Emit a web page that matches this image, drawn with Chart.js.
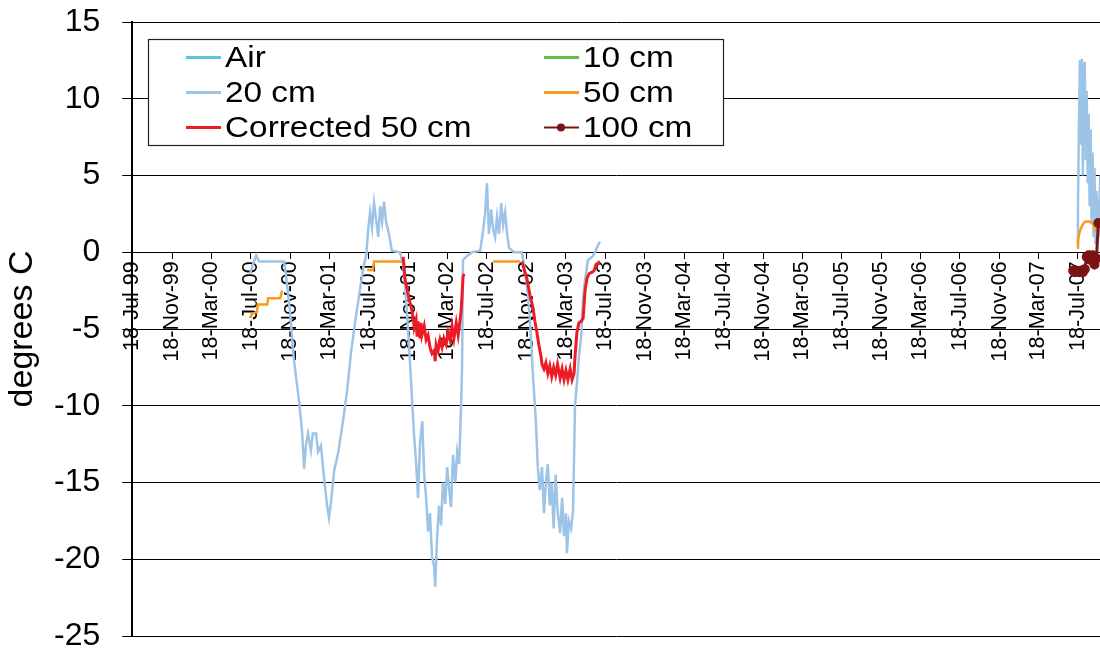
<!DOCTYPE html>
<html>
<head>
<meta charset="utf-8">
<script src="https://cdn.jsdelivr.net/npm/chart.js@4/dist/chart.umd.min.js"></script>
<style>
html,body{margin:0;padding:0;background:#fff;overflow:hidden}
#wrap{position:relative;width:1100px;height:652px}
</style>
</head>
<body>
<div id="wrap"><canvas id="c"></canvas></div>
<script>
// ---- tick labels (date axis) ----
const tickLabels = ['18-Jul-99','18-Nov-99','18-Mar-00','18-Jul-00','18-Nov-00','18-Mar-01','18-Jul-01',
  '18-Nov-01','18-Mar-02','18-Jul-02','18-Nov-02','18-Mar-03','18-Jul-03','18-Nov-03','18-Mar-04',
  '18-Jul-04','18-Nov-04','18-Mar-05','18-Jul-05','18-Nov-05','18-Mar-06','18-Jul-06','18-Nov-06',
  '18-Mar-07','18-Jul-07'];
const xStart = '1999-07-18';
const xEnd = '2007-09-24';
const yTicks = [-25, -20, -15, -10, -5, 0, 5, 10, 15];

// ---- series ----
const seriesNames = ['Air', '10 cm', '20 cm', '50 cm', 'Corrected 50 cm', '100 cm'];

const airDates = [];
const airValues = [];

const cm10Dates = [];
const cm10Values = [];

const cm20Dates = ['2000-07-16','2000-07-25','2000-08-04','2000-08-13','2000-09-16','2000-10-29','2000-11-04','2000-11-17',
  '2000-11-26','2000-12-06','2000-12-15','2000-12-24','2000-12-30','2001-01-05','2001-01-11','2001-01-20','2001-01-26',
  '2001-02-05','2001-02-11','2001-02-20','2001-03-02','2001-03-11','2001-03-17','2001-03-23','2001-04-02','2001-04-14',
  '2001-04-29','2001-05-12','2001-05-24','2001-06-06','2001-06-18','2001-07-01','2001-07-10','2001-07-16','2001-07-22',
  '2001-07-28','2001-08-03','2001-08-09','2001-08-16','2001-08-22','2001-08-28','2001-09-03','2001-09-09','2001-09-18',
  '2001-09-27','2001-10-22','2001-11-01','2001-11-10','2001-11-19','2001-11-29','2001-12-05','2001-12-11','2001-12-17',
  '2001-12-23','2001-12-30','2002-01-05','2002-01-11','2002-01-17','2002-01-23','2002-01-29','2002-02-05','2002-02-08',
  '2002-02-14','2002-02-20','2002-02-26','2002-03-04','2002-03-11','2002-03-17','2002-03-23','2002-03-29','2002-04-04',
  '2002-04-11','2002-04-17','2002-04-23','2002-04-29','2002-05-02','2002-05-05','2002-05-14','2002-06-02','2002-06-27',
  '2002-07-06','2002-07-12','2002-07-18','2002-07-24','2002-07-31','2002-08-06','2002-08-12','2002-08-18','2002-08-24',
  '2002-08-31','2002-09-06','2002-09-12','2002-09-18','2002-09-24','2002-10-09','2002-11-03','2002-11-09','2002-11-18',
  '2002-11-28','2002-12-07','2002-12-16','2002-12-22','2002-12-28','2003-01-04','2003-01-10','2003-01-16','2003-01-22',
  '2003-01-28','2003-02-03','2003-02-09','2003-02-15','2003-02-21','2003-03-01','2003-03-07','2003-03-13','2003-03-19',
  '2003-03-22','2003-03-28','2003-04-04','2003-04-10','2003-04-16','2003-04-22','2003-04-28','2003-05-05','2003-05-11',
  '2003-05-17','2003-05-26','2003-06-08','2003-06-17','2003-06-27','2003-07-02','2005-07-18',
  '2007-07-15','2007-07-18','2007-07-21','2007-07-24','2007-07-27','2007-07-30','2007-08-02','2007-08-05','2007-08-08',
  '2007-08-11','2007-08-14','2007-08-17','2007-08-20','2007-08-23','2007-08-26','2007-08-29','2007-09-01','2007-09-04',
  '2007-09-07','2007-09-10','2007-09-13','2007-09-16','2007-09-19','2007-09-22','2007-09-25'];
const cm20Values = [-1.4,-0.8,-0.2,-0.6,-0.6,-0.6,-1.5,-4.0,
  -6.5,-8.3,-9.8,-11.8,-14.1,-12.5,-11.8,-12.9,-11.8,
  -11.8,-13.0,-12.6,-14.8,-16.5,-17.3,-16.3,-14.2,-13.1,
  -11.0,-9.0,-6.5,-4.5,-2.8,-1.0,-0.2,1.5,2.6,
  1.6,3.2,2.2,1.0,3.0,2.0,3.3,2.0,1.2,
  0.1,0.0,-0.8,-3.0,-6.0,-9.8,-12.0,-13.7,-16.0,
  -12.5,-11.0,-14.5,-16.0,-18.2,-17.0,-19.8,-20.5,-21.8,
  -18.5,-16.5,-17.8,-15.0,-16.4,-14.0,-15.4,-16.6,-13.2,
  -15.0,-13.0,-13.8,-10.0,-7.5,-0.5,-0.3,0.0,0.1,
  1.4,2.5,4.5,1.2,2.8,1.5,1.0,2.3,1.2,
  3.2,1.8,2.6,1.2,0.3,0.0,0.0,-0.8,-2.0,
  -4.5,-8.0,-11.0,-14.0,-15.5,-14.0,-17.0,-15.0,-13.8,
  -16.5,-15.0,-18.0,-14.5,-16.8,-18.3,-16.0,-18.5,-17.0,
  -19.6,-17.5,-18.0,-16.8,-10.0,-8.5,-6.8,-5.5,-3.0,
  -1.8,-0.5,-0.3,0.0,0.5,0.7,null,
  0.5,3.0,8.5,12.5,7.0,12.6,5.0,11.5,12.4,
  6.0,10.5,4.5,9.0,3.0,8.0,2.0,6.5,1.0,
  5.5,0.5,4.0,2.5,1.0,3.0,5.0];

const cm50Dates = ['2000-07-16','2000-07-22','2000-08-06','2000-08-09','2000-09-07','2000-09-10','2000-10-17','2000-10-23',
  '2001-01-01','2001-07-13','2001-07-31','2001-08-03','2001-10-29','2002-01-01','2002-08-06','2002-10-28','2005-01-01',
  '2007-07-15','2007-07-18','2007-07-24','2007-07-30','2007-08-05','2007-08-11','2007-08-23','2007-09-04','2007-09-10',
  '2007-09-16','2007-09-22','2007-09-28'];
const cm50Values = [-4.3,-4.0,-3.9,-3.4,-3.4,-3.0,-3.0,-2.5,
  null,-1.15,-1.15,-0.6,-0.6,null,-0.6,-0.6,null,
  0.3,0.8,1.4,1.7,1.9,2.0,2.0,1.8,1.5,
  1.8,1.9,1.9];

const cm50cDates = ['2001-11-01','2001-11-04','2001-11-07','2001-11-13','2001-11-19','2001-11-26','2001-12-02','2001-12-05',
  '2001-12-11','2001-12-14','2001-12-17','2001-12-23','2001-12-26','2001-12-29','2002-01-05','2002-01-11','2002-01-17',
  '2002-01-23','2002-01-29','2002-02-05','2002-02-08','2002-02-11','2002-02-17','2002-02-23','2002-03-01','2002-03-07',
  '2002-03-14','2002-03-20','2002-03-26','2002-04-01','2002-04-07','2002-04-14','2002-04-20','2002-04-26','2002-04-29',
  '2002-05-02','2002-05-05','2002-05-08','2002-08-01',
  '2002-11-03','2002-11-12','2002-11-18','2002-11-28','2002-12-07','2002-12-13','2002-12-19','2002-12-25','2003-01-01',
  '2003-01-04','2003-01-10','2003-01-16','2003-01-22','2003-01-28','2003-02-03','2003-02-09','2003-02-15','2003-02-21',
  '2003-03-01','2003-03-07','2003-03-13','2003-03-19','2003-03-25','2003-04-01','2003-04-07','2003-04-13','2003-04-16',
  '2003-04-22','2003-04-28','2003-05-05','2003-05-11','2003-05-17','2003-05-23','2003-05-29','2003-06-08','2003-06-14',
  '2003-06-20','2003-06-27','2003-07-02'];
const cm50cValues = [-0.3,-1.0,-1.8,-2.4,-3.0,-3.6,-4.3,-4.9,
  -4.4,-5.5,-4.5,-5.6,-4.6,-5.4,-4.8,-5.7,-5.4,
  -6.2,-6.6,-6.4,-7.1,-6.0,-6.4,-5.7,-6.2,-5.6,
  -6.0,-5.2,-5.7,-4.8,-5.6,-4.6,-5.4,-4.4,-3.8,
  -2.8,-1.6,-1.4,null,
  -0.6,-1.3,-1.7,-2.8,-3.6,-4.5,-5.2,-6.0,-6.8,
  -7.3,-7.6,-7.2,-7.9,-7.4,-8.1,-7.5,-8.0,-7.3,
  -8.2,-7.6,-8.3,-7.7,-8.3,-7.6,-8.3,-7.9,-6.8,
  -5.2,-4.6,-4.5,-4.3,-2.5,-1.7,-1.4,-1.3,-1.2,
  -0.8,-0.7,-0.6];

const cm100Dates = ['2007-07-03','2007-07-09','2007-07-15','2007-07-21','2007-07-27','2007-08-02','2007-08-08',
  '2007-08-14','2007-08-20','2007-08-26','2007-09-01','2007-09-07','2007-09-13','2007-09-19'];
const cm100Values = [-1.2,-1.3,-1.2,-1.3,-1.2,-1.3,-1.1,
  -0.3,-0.2,-0.5,-0.2,-0.8,-0.4,1.9];

// ---- helpers ----
const MONTHS = ['Jan','Feb','Mar','Apr','May','Jun','Jul','Aug','Sep','Oct','Nov','Dec'];
const dayOf = s => Date.UTC(+s.slice(0,4), +s.slice(5,7) - 1, +s.slice(8,10)) / 864e5;
const dayOfLabel = l => {
  const [d, m, y] = l.split('-');
  return Date.UTC(2000 + (+y > 50 ? +y - 100 : +y), MONTHS.indexOf(m), +d) / 864e5;
};
const tickDays = tickLabels.map(dayOfLabel);
const pts = (dates, vals) => dates.map((d, i) => ({x: dayOf(d), y: vals[i]}));

const FONT = '"Liberation Sans", Arial, sans-serif';
Chart.defaults.font.family = FONT;
Chart.defaults.color = '#000';

const colors = ['#5BC6D4', '#62BE45', '#9DC3E6', '#F79A1E', '#ED1C24', '#7B1416'];

const mk = (i, data, extra) => Object.assign({
  label: seriesNames[i], data, borderColor: colors[i], backgroundColor: colors[i],
  borderWidth: 2.5, pointRadius: 0, pointHoverRadius: 0, spanGaps: false, tension: 0,
  order: 6 - i
}, extra || {});

const datasets = [
  mk(0, pts(airDates, airValues)),
  mk(1, pts(cm10Dates, cm10Values)),
  mk(2, pts(cm20Dates, cm20Values), {borderWidth: 2.5}),
  mk(3, pts(cm50Dates, cm50Values), {borderWidth: 2.5}),
  mk(4, pts(cm50cDates, cm50cValues), {borderWidth: 3}),
  mk(5, pts(cm100Dates, cm100Values), {borderWidth: 3, pointRadius: 5, pointBackgroundColor: colors[5], pointBorderColor: colors[5], pointBorderWidth: 0})
];

const legendBox = {
  id: 'legendBox',
  afterDraw(chart) {
    const ctx = chart.ctx;
    ctx.save();
    const x0 = 148.5, y0 = 39.5, w = 575, h = 106;
    ctx.fillStyle = '#fff';
    ctx.fillRect(x0, y0, w, h);
    ctx.strokeStyle = '#222';
    ctx.lineWidth = 1.2;
    ctx.strokeRect(x0, y0, w, h);
    ctx.textBaseline = 'middle';
    ctx.textAlign = 'left';
    chart.data.datasets.forEach((ds, i) => {
      const col = i % 2, row = Math.floor(i / 2);
      const lx = col ? 544 : 186;
      const ly = 57.5 + row * 35;
      ctx.strokeStyle = ds.borderColor;
      ctx.lineWidth = ds.pointRadius > 0 ? 2 : 3;
      ctx.beginPath(); ctx.moveTo(lx, ly); ctx.lineTo(lx + 35, ly); ctx.stroke();
      if (ds.pointRadius > 0) {
        ctx.fillStyle = ds.borderColor;
        ctx.beginPath(); ctx.arc(lx + 17, ly, 4, 0, Math.PI * 2); ctx.fill();
      }
      ctx.fillStyle = '#000';
      ctx.save();
      ctx.translate(lx + 39, ly + 1);
      ctx.scale(1.15, 1);
      ctx.font = '29px ' + FONT;
      ctx.fillText(ds.label, 0, 0);
      ctx.restore();
    });
    ctx.restore();
  }
};

new Chart(document.getElementById('c'), {
  type: 'line',
  data: {datasets},
  options: {
    responsive: true,
    maintainAspectRatio: false,
    animation: false,
    devicePixelRatio: 1,
    parsing: false,
    normalized: true,
    layout: {autoPadding: false, padding: {left: 6, top: 22, right: 0, bottom: 16}},
    plugins: {legend: {display: false}, tooltip: {enabled: false}},
    events: [],
    scales: {
      x: {
        type: 'linear',
        position: {y: 0},
        min: dayOf(xStart),
        max: dayOf(xEnd),
        afterBuildTicks: axis => { axis.ticks = tickDays.map(v => ({value: v})); },
        ticks: {
          autoSkip: false, minRotation: 90, maxRotation: 90, padding: 3,
          font: {size: 21.5, lineHeight: 0.85}, color: '#000',
          callback: v => tickLabels[tickDays.indexOf(v)] || ''
        },
        grid: {drawOnChartArea: false, drawTicks: true, tickLength: 6, color: '#000', lineWidth: 1},
        border: {display: true, color: '#000', width: 1}
      },
      y: {
        type: 'linear',
        min: -25, max: 15,
        afterBuildTicks: axis => { axis.ticks = yTicks.map(v => ({value: v})); },
        ticks: {font: {size: 32, lineHeight: 1}, color: '#000', padding: 0},
        grid: {color: '#000', lineWidth: 1, tickLength: 32, drawTicks: true, tickBorderDash: [0, 22, 10, 0]},
        border: {display: true, color: '#000', width: 2},
        title: {display: true, text: 'degrees C', font: {size: 34, lineHeight: 1}, color: '#000', padding: {top: 0, bottom: 14}}
      }
    }
  },
  plugins: [legendBox]
});
</script>
</body>
</html>
